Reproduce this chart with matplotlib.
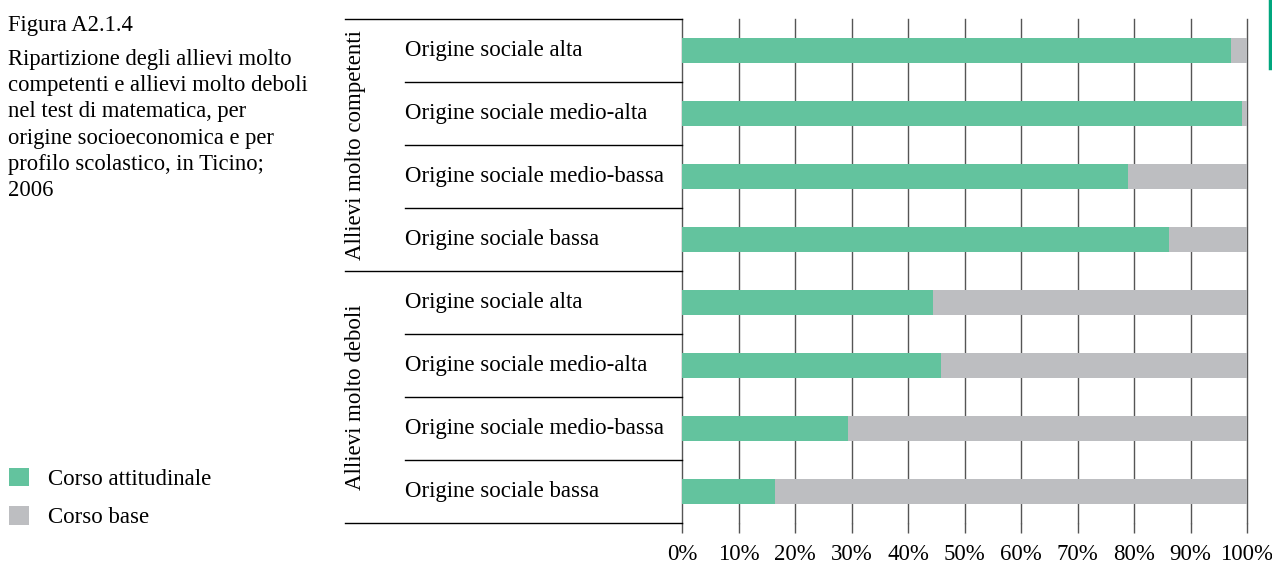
#!/usr/bin/env python3
# ripartizione_allievi.py

import matplotlib.pyplot as plt
from matplotlib.lines import Line2D
from matplotlib.transforms import blended_transform_factory
import numpy as np

plt.rcParams['font.family'] = ['Liberation Serif', 'DejaVu Serif']

groups = ["Allievi molto competenti", "Allievi molto deboli"]
origini = ["Origine sociale alta", "Origine sociale medio-alta",
           "Origine sociale medio-bassa", "Origine sociale bassa"]
attitudinale = [97.2, 99.1, 78.9, 86.2, 44.4, 45.8, 29.4, 16.5]
base = [100 - v for v in attitudinale]
ticks = list(range(0, 101, 10))
tick_labels = [f"{t}%" for t in ticks]
title_lines = ["Ripartizione degli allievi molto",
               "competenti e allievi molto deboli",
               "nel test di matematica, per",
               "origine socioeconomica e per",
               "profilo scolastico, in Ticino;",
               "2006"]

GREEN = "#63c39e"
GRAY = "#bdbec1"
FS = 16.5
FS_TITLE = 16.3


def plot(fig):
    W, H = 1272, 564
    x0, x1, y0, y1 = 682, 1247, 19, 523
    ax = fig.add_axes([x0 / W, 1 - y1 / H, (x1 - x0) / W, (y1 - y0) / H])

    n = len(attitudinale)
    y = np.arange(n) + 0.5
    ax.barh(y, attitudinale, height=0.4, color=GREEN,
            label="Corso attitudinale", zorder=3)
    ax.barh(y, base, left=attitudinale, height=0.4, color=GRAY,
            label="Corso base", zorder=3)

    ax.set_xlim(0, 100)
    ax.set_ylim(n, 0)
    ax.set_xticks(ticks)
    ax.set_xticklabels(tick_labels, fontsize=FS)
    ax.set_yticks([])
    ax.tick_params(axis='x', length=7, width=1, color="#555555",
                   pad=8)
    for s in ax.spines.values():
        s.set_visible(False)
    for t in ticks:
        ax.axvline(t, color="#555555", lw=1, zorder=2, clip_on=False)

    # left side: label table with separators
    tr = blended_transform_factory(ax.transAxes, ax.transData)
    xa = (345 - x0) / (x1 - x0)
    xb = (405 - x0) / (x1 - x0)
    per = len(origini)
    for i in range(n + 1):
        start = xa if i % per == 0 else xb
        ax.add_line(Line2D([start, 0], [i, i], transform=tr,
                           color="black", lw=1, clip_on=False))
    for i in range(n):
        ax.text(xb, i + 0.5, origini[i % per], transform=tr,
                ha='left', va='center', fontsize=FS)
    xg = (355 - x0) / (x1 - x0)
    for g, name in enumerate(groups):
        ax.text(xg, g * per + per / 2, name, transform=tr, rotation=90,
                ha='center', va='center', fontsize=FS)

    fig.text(8 / W, 1 - 31 / H, "Figura A2.1.4", ha='left', va='baseline',
             fontsize=FS_TITLE)
    for k, line in enumerate(title_lines):
        fig.text(8 / W, 1 - (65 + 26.2 * k) / H, line, ha='left',
                 va='baseline', fontsize=FS_TITLE)

    handles, labels = ax.get_legend_handles_labels()
    fig.legend(handles, labels, loc='upper left',
               bbox_to_anchor=(0 / W, 1 - 459 / H), frameon=False,
               fontsize=FS, handlelength=0.85, handleheight=0.85,
               handletextpad=0.85, labelspacing=0.7, borderaxespad=0)

    fig.add_artist(Line2D([1270 / W, 1270 / W], [1, 1 - 68 / H],
                          color="#00a67e", lw=2.5))


def main():
    fig = plt.figure(figsize=(12.72, 5.64), dpi=100)
    plot(fig)
    fig.savefig("out.png", dpi=100)


if __name__ == "__main__":
    main()
